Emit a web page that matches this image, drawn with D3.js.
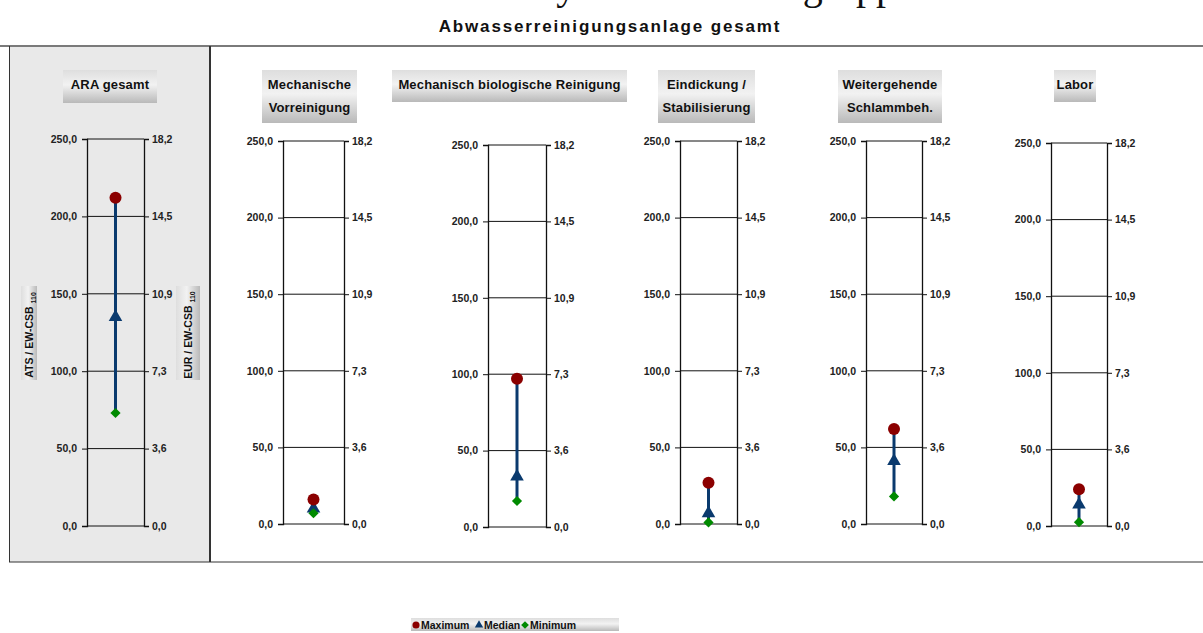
<!DOCTYPE html>
<html>
<head>
<meta charset="utf-8">
<script src="https://cdn.jsdelivr.net/npm/d3@7"></script>
<style>
  html, body { margin: 0; padding: 0; background: #fff; }
  svg { display: block; }
  text { font-family: Arial, "Liberation Sans", sans-serif; }
</style>
</head>
<body>
<svg id="chart" width="1203" height="633"></svg>
<script>
// ---------- data ----------
const categories = ["ARA gesamt", "Mechanische Vorreinigung", "Mechanisch biologische Reinigung",
                    "Eindickung / Stabilisierung", "Weitergehende Schlammbeh.", "Labor"];
const titleLines = [["ARA gesamt"], ["Mechanische", "Vorreinigung"], ["Mechanisch biologische Reinigung"],
                    ["Eindickung /", "Stabilisierung"], ["Weitergehende", "Schlammbeh."], ["Labor"]];
const maxValues    = [212, 16, 97, 27, 62, 24];
const medianValues = [135, 10, 33, 7, 41, 14];
const minValues    = [73, 7, 17, 1, 18, 2.5];
const atsTicks      = [0, 50, 100, 150, 200, 250];
const eurTickLabels = ["0,0", "3,6", "7,3", "10,9", "14,5", "18,2"];
const legendLabels  = ["Maximum", "Median", "Minimum"];
const leftAxisTitle  = "ATS / EW-CSB";
const rightAxisTitle = "EUR / EW-CSB";
const axisSub = "110";
const mainTitle = "Abwasserreinigungsanlage gesamt";
const topTitle = "Kostenanalyse der Prozessgruppen";

// ---------- layout ----------
const panels = [
  { x0: 87,   x1: 144,  yTop: 139, yBot: 526, tb: [63, 70, 157, 103] },
  { x0: 283,  x1: 344,  yTop: 141, yBot: 524, tb: [262, 70, 357, 123] },
  { x0: 488,  x1: 546,  yTop: 145, yBot: 527, tb: [392, 70, 627, 102] },
  { x0: 680,  x1: 737,  yTop: 141, yBot: 524, tb: [658, 70, 755, 123] },
  { x0: 866,  x1: 922,  yTop: 141, yBot: 524, tb: [838, 70, 942, 123] },
  { x0: 1051, x1: 1107, yTop: 143, yBot: 526, tb: [1054, 70, 1096, 102] }
];
const colMax = "#8b0000", colMed = "#0a3a6e", colMin = "#008a00", colLine = "#0a3a6e";

const svg = d3.select("#chart");
const defs = svg.append("defs");
const g1 = defs.append("linearGradient").attr("id", "gv").attr("x1", 0).attr("y1", 0).attr("x2", 0).attr("y2", 1);
g1.append("stop").attr("offset", "0%").attr("stop-color", "#dedede");
g1.append("stop").attr("offset", "45%").attr("stop-color", "#f2f2f2");
g1.append("stop").attr("offset", "100%").attr("stop-color", "#b9b9b9");

// cut-off top title (serif), only descenders visible as in the reference
svg.append("text").attr("x", 655).attr("y", -1).attr("text-anchor", "middle")
  .style("font-family", "'Liberation Serif', 'Times New Roman', serif").style("font-size", "40px")
  .attr("fill", "#111").text(topTitle);

// subtitle
svg.append("text").attr("x", 610).attr("y", 32).attr("text-anchor", "middle")
  .style("font-size", "17px").style("font-weight", "bold").style("letter-spacing", "1.85px")
  .attr("fill", "#111").text(mainTitle);

// frame
svg.append("rect").attr("x", 9).attr("y", 46).attr("width", 201).attr("height", 516).attr("fill", "#e9e9e9");
svg.append("line").attr("x1", 0).attr("x2", 1203).attr("y1", 46).attr("y2", 46).attr("stroke", "#7a7a7a").attr("stroke-width", 2);
svg.append("line").attr("x1", 9).attr("x2", 1203).attr("y1", 562).attr("y2", 562).attr("stroke", "#333").attr("stroke-width", 1);
svg.append("line").attr("x1", 9.5).attr("x2", 9.5).attr("y1", 46).attr("y2", 562).attr("stroke", "#333").attr("stroke-width", 1);
svg.append("line").attr("x1", 210).attr("x2", 210).attr("y1", 46).attr("y2", 562).attr("stroke", "#333").attr("stroke-width", 2);

// axis titles (rotated)
function axisTitle(cx, cy, w, txt) {
  const g = svg.append("g").attr("transform", `translate(${cx},${cy}) rotate(-90)`);
  g.append("rect").attr("x", -47).attr("y", -w / 2).attr("width", 94).attr("height", w).attr("fill", "url(#gv)");
  const t = g.append("text").attr("x", -2).attr("y", 4).attr("text-anchor", "middle")
    .style("font-size", "10.5px").style("font-weight", "bold").attr("fill", "#111");
  t.append("tspan").text(txt + " ");
  t.append("tspan").attr("dy", 3).style("font-size", "7px").text(axisSub);
}
axisTitle(29, 333, 16, leftAxisTitle);
axisTitle(188, 333, 24, rightAxisTitle);

const fmt = d => d3.format(".1f")(d).replace(".", ",");

panels.forEach((p, i) => {
  const y = d3.scaleLinear().domain([0, 250]).range([p.yBot, p.yTop]);
  const g = svg.append("g");

  // title box
  const [bx0, by0, bx1, by1] = p.tb;
  g.append("rect").attr("x", bx0).attr("y", by0).attr("width", bx1 - bx0).attr("height", by1 - by0).attr("fill", "url(#gv)");
  titleLines[i].forEach((ln, k) => {
    g.append("text").attr("x", (bx0 + bx1) / 2).attr("y", by0 + 19 + k * 23).attr("text-anchor", "middle")
      .style("font-size", "13px").style("font-weight", "bold").style("letter-spacing", "0.15px")
      .attr("fill", "#111").text(ln);
  });

  // gridlines
  g.selectAll("line.grid").data(atsTicks).join("line").attr("class", "grid")
    .attr("x1", p.x0).attr("x2", p.x1).attr("y1", d => y(d)).attr("y2", d => y(d))
    .attr("stroke", "#111").attr("stroke-width", 1);

  // left axis
  const la = g.append("g").attr("transform", `translate(${p.x0},0)`)
    .call(d3.axisLeft(y).tickValues(atsTicks).tickFormat(fmt).tickSize(5).tickPadding(5));
  la.select(".domain").attr("stroke", "#111").attr("stroke-width", 1.3);
  la.selectAll(".tick line").attr("stroke", "#111");
  la.selectAll(".tick text").style("font-size", "10.5px").style("font-weight", "bold")
    .style("font-family", "Arial, 'Liberation Sans', sans-serif").attr("fill", "#222");

  // right axis
  const ra = g.append("g").attr("transform", `translate(${p.x1},0)`)
    .call(d3.axisRight(y).tickValues(atsTicks).tickFormat((d, k) => eurTickLabels[k]).tickSize(5).tickPadding(3));
  ra.select(".domain").attr("stroke", "#111").attr("stroke-width", 1.3);
  ra.selectAll(".tick line").attr("stroke", "#111");
  ra.selectAll(".tick text").style("font-size", "10.5px").style("font-weight", "bold")
    .style("font-family", "Arial, 'Liberation Sans', sans-serif").attr("fill", "#222");

  // range line and markers
  const cx = (p.x0 + p.x1) / 2;
  g.append("line").attr("x1", cx).attr("x2", cx).attr("y1", y(minValues[i])).attr("y2", y(maxValues[i]))
    .attr("stroke", colLine).attr("stroke-width", 3);
  g.append("path").attr("d", d3.symbol(d3.symbolTriangle, 80)())
    .attr("transform", `translate(${cx},${y(medianValues[i])})`).attr("fill", colMed);
  g.append("path").attr("d", d3.symbol(d3.symbolSquare, 52)())
    .attr("transform", `translate(${cx},${y(minValues[i])}) rotate(45)`).attr("fill", colMin);
  g.append("circle").attr("cx", cx).attr("cy", y(maxValues[i])).attr("r", 6).attr("fill", colMax);
});

// legend
const lg = svg.append("g");
lg.append("rect").attr("x", 411).attr("y", 618).attr("width", 208).attr("height", 13).attr("fill", "url(#gv)");
const legendX = [416, 479, 525];
const legendSym = [d3.symbolCircle, d3.symbolTriangle, d3.symbolSquare];
const legendRot = [0, 0, 45];
const legendCol = [colMax, colMed, colMin];
legendLabels.forEach((l, k) => {
  lg.append("path").attr("d", d3.symbol(legendSym[k], k === 0 ? 40 : 30)())
    .attr("transform", `translate(${legendX[k]},${625}) rotate(${legendRot[k]})`).attr("fill", legendCol[k]);
  lg.append("text").attr("x", legendX[k] + 5).attr("y", 628.8)
    .style("font-size", "10.5px").style("font-weight", "bold").attr("fill", "#111").text(l);
});
</script>
</body>
</html>
